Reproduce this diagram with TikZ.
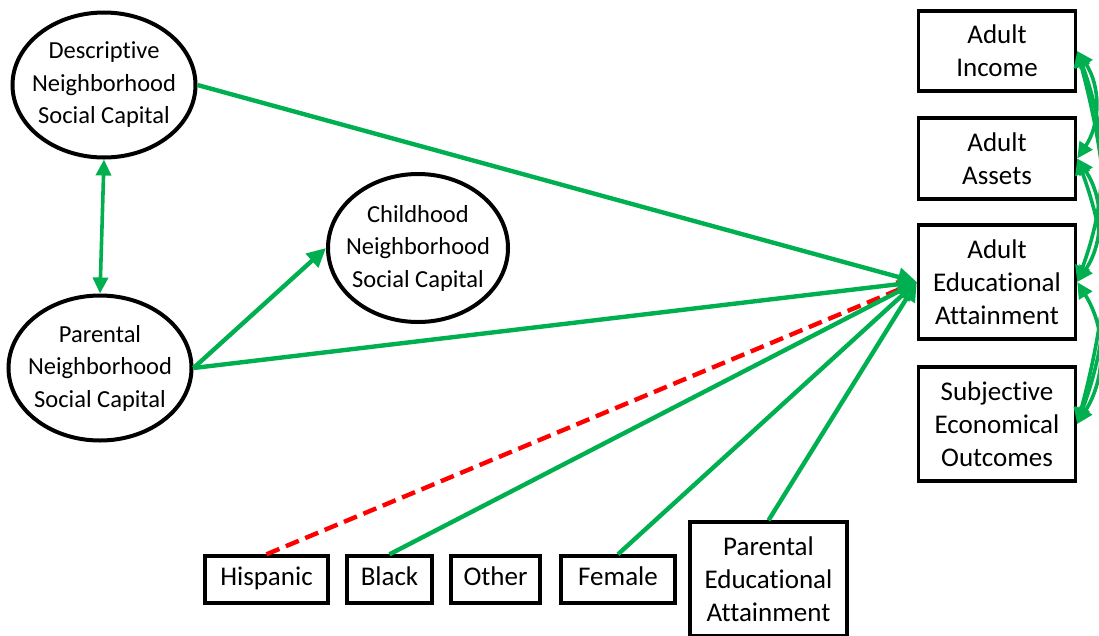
\documentclass[tikz,border=0pt]{standalone}
\usepackage{fontspec}
\setmainfont{Carlito}[Ligatures=NoCommon]
\usetikzlibrary{arrows.meta,shapes.geometric}
\definecolor{pathgreen}{RGB}{0,176,80}
\definecolor{negred}{RGB}{255,0,0}

\begin{document}
\begin{tikzpicture}[x=1pt,y=-1pt,
  boxtext/.style={font=\fontsize{27}{33}\selectfont, align=center},
  ovaltext/.style={font=\fontsize{24.5}{32.5}\selectfont, align=center, inner sep=0pt},
  latent/.style={ellipse, draw, line width=4pt, inner sep=0pt,
    minimum width=183pt, minimum height=145pt},
  obs/.style={boxtext, rectangle, draw, line width=3.4pt, inner sep=0pt},
  onerow/.style={obs, minimum height=47pt, text height=18.5pt, text depth=6pt},
  rbox/.style={obs, minimum width=157pt},
  pathline/.style={pathgreen, line width=4.4pt, -{Triangle[length=19pt,width=18pt]}},
  negpath/.style={negred, line width=4.4pt, dash pattern=on 14pt off 7pt,
    -{Triangle[length=19pt,width=18pt]}},
  corr/.style={pathgreen, line width=3.6pt,
    {Triangle[length=16pt,width=15pt]}-{Triangle[length=16pt,width=15pt]}}
]
\useasboundingbox (0,0) rectangle (1099,635);

% latent constructs (outline and label)
\node[latent] (desc) at (104,85) {};
\node[ovaltext] (desc-t) at (desc.center) {Descriptive\\Neighborhood\\Social Capital};
\node[latent] (par) at (100,368) {};
\node[ovaltext] (par-t) at (par.center) {Parental\\Neighborhood\\Social Capital};
\node[latent, minimum width=180pt, minimum height=148pt] (child) at (418,248) {};
\node[ovaltext] (child-t) at (child.center) {Childhood\\Neighborhood\\Social Capital};

% outcomes
\node[rbox, minimum height=80pt] (inc) at (997,51) {Adult\\Income};
\node[rbox, minimum height=81pt] (ast) at (997,158.5) {Adult\\Assets};
\node[rbox, minimum height=114pt] (edu) at (997,282) {Adult\\Educational\\Attainment};
\node[rbox, minimum height=114pt] (subj) at (997,424) {Subjective\\Economical\\Outcomes};

% covariates
\node[onerow, minimum width=123pt] (hisp) at (266.5,579.5) {Hispanic};
\node[onerow, minimum width=85pt] (blk) at (389.5,579.5) {Black};
\node[onerow, minimum width=89pt] (oth) at (495.5,579.5) {Other};
\node[onerow, minimum width=114pt] (fem) at (618,579.5) {Female};
\node[obs, minimum width=157pt, minimum height=114pt] (pedu) at (768.5,579)
  {Parental\\Educational\\Attainment};

% paths into adult educational attainment
\draw[negpath] (hisp.north) -- (edu.west);
\draw[pathline] (desc.east) -- (edu.west);
\draw[pathline] (par.east) -- (edu.west);
\draw[pathline] (blk.north) -- (edu.west);
\draw[pathline] (fem.north) -- (edu.west);
\draw[pathline] (pedu.north) -- (edu.west);
\draw[pathline] (par.east) -- (child.west);

% correlation between the two neighborhood measures
\draw[corr] (desc.south) -- (par.north);

% correlations among the outcomes
\draw[corr] (inc.east) to[bend left=34] (ast.east);
\draw[corr] (inc.east) to[bend left=20] (edu.east);
\draw[corr] (inc.east) to[bend left=15] (subj.east);
\draw[corr] (ast.east) to[bend left=34] (edu.east);
\draw[corr] (ast.east) to[bend left=20] (subj.east);
\draw[corr] (edu.east) to[bend left=32] (subj.east);
\end{tikzpicture}
\end{document}
